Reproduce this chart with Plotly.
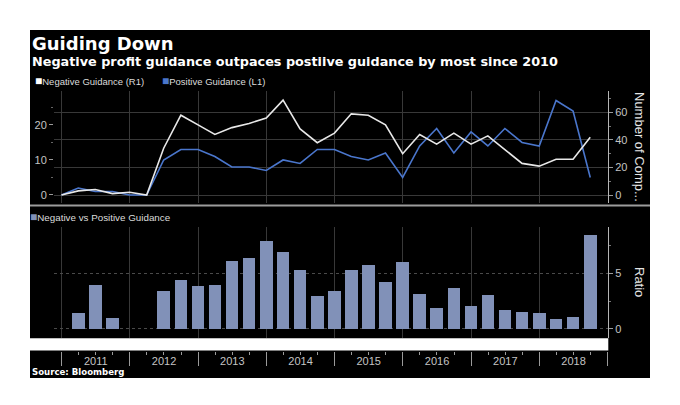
import plotly.graph_objects as go

# ---------------- data ----------------
quarters = [
    "2010-12-31", "2011-03-31", "2011-06-30", "2011-09-30",
    "2011-12-31", "2012-03-31", "2012-06-30", "2012-09-30",
    "2012-12-31", "2013-03-31", "2013-06-30", "2013-09-30",
    "2013-12-31", "2014-03-31", "2014-06-30", "2014-09-30",
    "2014-12-31", "2015-03-31", "2015-06-30", "2015-09-30",
    "2015-12-31", "2016-03-31", "2016-06-30", "2016-09-30",
    "2016-12-31", "2017-03-31", "2017-06-30", "2017-09-30",
    "2017-12-31", "2018-03-31", "2018-06-30", "2018-09-30",
]
negative_guidance = [0, 3, 4, 1, 2, 0, 34, 58, 51, 44, 49, 52, 56, 69, 48, 38,
                     45, 59, 58, 51, 30, 44, 37, 45, 37, 43, 33, 23, 21, 26, 26, 42]
positive_guidance = [0, 2, 1, 1, 0, 0, 10, 13, 13, 11, 8, 8, 7, 10, 9, 13,
                     13, 11, 10, 12, 5, 14, 19, 12, 18, 14, 19, 15, 14, 27, 24, 5]
neg_vs_pos_ratio = [0, 1.5, 4.0, 1.0, 0, 0, 3.4, 4.46, 3.92, 4.0, 6.1, 6.45, 7.95, 6.9, 5.3, 2.95,
                    3.45, 5.35, 5.8, 4.25, 6.05, 3.15, 1.95, 3.75, 2.05, 3.05, 1.75, 1.55, 1.5, 0.95, 1.1, 8.45]

title_text = "Guiding Down"
subtitle_text = "Negative profit guidance outpaces postiive guidance by most since 2010"
source_text = "Source: Bloomberg"

# ---------------- layout geometry (page pixels; the page body has an 8px margin) ----------------
OFF = 8
W, H = 680 - OFF, 405 - OFF
PLOT_L, PLOT_R, PLOT_T, PLOT_B = 54, 608, 91, 351     # page-pixel extents of the plotting area
ML = PLOT_L - OFF
MT = PLOT_T - OFF
MR = W - (PLOT_R - OFF)
MB = H - (PLOT_B - OFF)
PW = W - ML - MR
PH = H - MT - MB


def fx(px):
    return (px - OFF - ML) / PW


def fy(py):
    return (H - MB - (py - OFF)) / PH


WHITE_LINE = "#e8e8e8"
BLUE_LINE = "#4a76cc"
BAR_COLOR = "#8191b8"
GRID = "#383838"
TICK = "#9a9a9a"
LABEL = "#c4c4c4"
SANS = "Liberation Sans, Arial, sans-serif"
BOLD = "DejaVu Sans, Verdana, sans-serif"
XRANGE = ["2010-11-21", "2019-01-03"]
BAR_WIDTH_MS = 68 * 86400000

fig = go.Figure()
fig.add_trace(go.Scatter(x=quarters, y=positive_guidance, xaxis="x", yaxis="y",
                         mode="lines", line=dict(color=BLUE_LINE, width=1.6),
                         showlegend=False, hoverinfo="skip"))
fig.add_trace(go.Scatter(x=quarters, y=negative_guidance, xaxis="x", yaxis="y3",
                         mode="lines", line=dict(color=WHITE_LINE, width=1.6),
                         showlegend=False, hoverinfo="skip"))
fig.add_trace(go.Bar(x=quarters, y=neg_vs_pos_ratio, xaxis="x2", yaxis="y2",
                     marker=dict(color=BAR_COLOR, line=dict(width=0)),
                     width=BAR_WIDTH_MS, showlegend=False, hoverinfo="skip"))

tickfont = dict(family=SANS, size=11, color=LABEL)

fig.update_layout(
    template="none",
    width=W, height=H,
    margin=dict(l=ML, r=MR, t=MT, b=MB, pad=0, autoexpand=False),
    paper_bgcolor="white",
    plot_bgcolor="black",
    showlegend=False,
    bargap=0,
    xaxis=dict(domain=[0, 1], anchor="y", type="date", range=XRANGE, automargin=False,
               showticklabels=False, ticks="", showline=False, zeroline=False,
               showgrid=True, gridcolor=GRID, gridwidth=1,
               dtick="M12", tick0="2011-01-01", matches="x2"),
    xaxis2=dict(domain=[0, 1], anchor="free", position=0, type="date", range=XRANGE,
                automargin=False,
                dtick="M12", tick0="2011-01-01", tickformat="%Y",
                ticklabelmode="period", ticks="outside", ticklen=14,
                tickcolor=TICK, tickwidth=1, showline=False, zeroline=False,
                showgrid=True, gridcolor=GRID, gridwidth=1,
                ticklabelstandoff=-14, tickfont=tickfont,
                minor=dict(dtick="M3", tick0="2011-01-01", ticks="outside",
                           ticklen=3, tickcolor=TICK, tickwidth=1, showgrid=False)),
    yaxis=dict(domain=[fy(203), fy(91)], anchor="x", side="left", automargin=False,
               range=[-2.29, 29.7], dtick=10, tick0=0,
               ticks="outside", ticklen=4, tickcolor=TICK, tickwidth=1,
               showline=False, showgrid=False, zeroline=False, tickfont=tickfont,
               minor=dict(dtick=5, tick0=0, ticks="outside", ticklen=2, tickcolor="#666",
                          showgrid=False)),
    yaxis3=dict(overlaying="y", anchor="x", side="right", automargin=False,
                range=[-5.8, 75.6], dtick=20, tick0=0,
                ticks="outside", ticklen=4, tickcolor=TICK, tickwidth=1,
                showline=True, linecolor="#b5b5b5", linewidth=1,
                showgrid=True, gridcolor=GRID, gridwidth=1, zeroline=False,
                tickfont=tickfont,
                minor=dict(dtick=10, tick0=0, ticks="outside", ticklen=2, tickcolor="#777",
                           showgrid=False)),
    yaxis2=dict(domain=[fy(338), fy(226.7)], anchor="x2", side="right", automargin=False,
                range=[-0.81, 9.19], dtick=5, tick0=0,
                ticks="outside", ticklen=4, tickcolor=TICK, tickwidth=1,
                showline=True, linecolor="#b5b5b5", linewidth=1,
                showgrid=True, gridcolor="#4a4a4a", griddash="dot", zeroline=False,
                tickfont=tickfont,
                minor=dict(dtick=2.5, tick0=0, ticks="outside", ticklen=2, tickcolor="#777",
                           showgrid=False)),
)

# black chart panels with the white gap above the date band
shapes = [
    dict(type="rect", xref="paper", yref="paper", x0=fx(30), x1=fx(650), y0=fy(338.3), y1=fy(30),
         fillcolor="black", line=dict(width=0), layer="below"),
    dict(type="rect", xref="paper", yref="paper", x0=fx(608.3), x1=fx(650), y0=fy(351), y1=fy(338),
         fillcolor="black", line=dict(width=0), layer="below"),
    dict(type="rect", xref="paper", yref="paper", x0=fx(30), x1=fx(650), y0=fy(378), y1=fy(350.5),
         fillcolor="black", line=dict(width=0), layer="below"),
    dict(type="line", xref="paper", yref="paper", x0=fx(30), x1=fx(650), y0=fy(205.5), y1=fy(205.5),
         line=dict(color="#9c9c9c", width=2), layer="above"),
]
fig.update_layout(shapes=shapes)

ann = []
ann.append(dict(text=f"<b>{title_text}</b>", x=fx(30), y=fy(43), xref="paper", yref="paper",
                xanchor="left", yanchor="middle", showarrow=False,
                font=dict(family=BOLD, size=18, color="white")))
ann.append(dict(text=f"<b>{subtitle_text}</b>", x=fx(30), y=fy(61.5), xref="paper", yref="paper",
                xanchor="left", yanchor="middle", showarrow=False,
                font=dict(family=BOLD, size=12.8, color="white")))
ann.append(dict(text="<span style='color:#ffffff;font-size:12px'>■</span>Negative Guidance (R1)",
                x=fx(33), y=fy(81), xref="paper", yref="paper",
                xanchor="left", yanchor="middle", showarrow=False,
                font=dict(family=SANS, size=9.5, color="#dcdcdc")))
ann.append(dict(text=f"<span style='color:{BLUE_LINE};font-size:12px'>■</span>Positive Guidance (L1)",
                x=fx(160), y=fy(81), xref="paper", yref="paper",
                xanchor="left", yanchor="middle", showarrow=False,
                font=dict(family=SANS, size=9.5, color="#dcdcdc")))
ann.append(dict(text=f"<span style='color:{BAR_COLOR};font-size:12px'>■</span>Negative vs Positive Guidance",
                x=fx(28), y=fy(216.5), xref="paper", yref="paper",
                xanchor="left", yanchor="middle", showarrow=False,
                font=dict(family=SANS, size=9.8, color="#dcdcdc")))
ann.append(dict(text="Number of Comp...", x=fx(640), y=fy(147), xref="paper", yref="paper",
                xanchor="center", yanchor="middle", showarrow=False, textangle=90,
                font=dict(family=SANS, size=13, color="#e6e6e6")))
ann.append(dict(text="Ratio", x=fx(640), y=fy(282), xref="paper", yref="paper",
                xanchor="center", yanchor="middle", showarrow=False, textangle=90,
                font=dict(family=SANS, size=13, color="#e6e6e6")))
ann.append(dict(text=f"<b>{source_text}</b>", x=fx(30), y=fy(372), xref="paper", yref="paper",
                xanchor="left", yanchor="middle", showarrow=False,
                font=dict(family=BOLD, size=8.6, color="white")))
fig.update_layout(annotations=ann)

fig.write_html("out.html")
